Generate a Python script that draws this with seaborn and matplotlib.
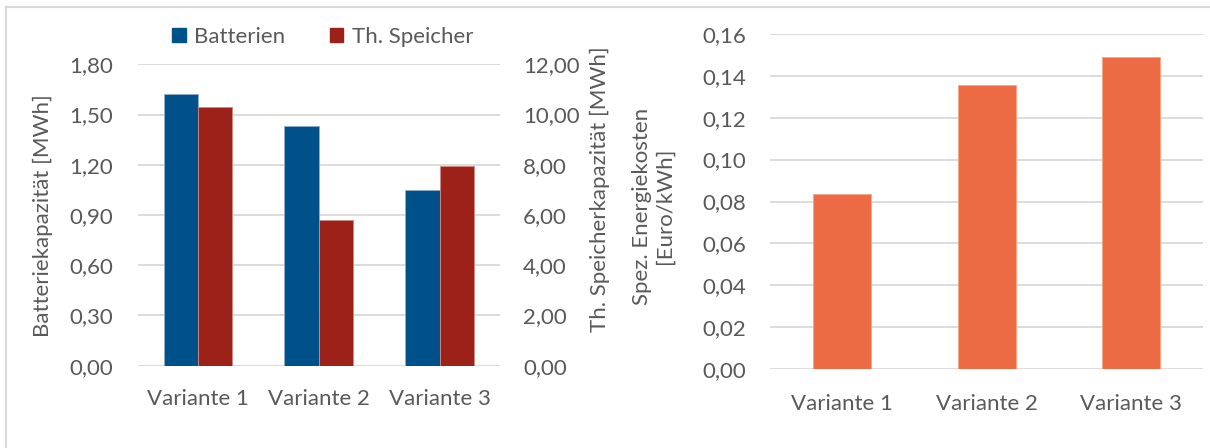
import matplotlib
matplotlib.use("Agg")
import matplotlib.pyplot as plt
import matplotlib.patches as mpatches
from matplotlib.ticker import FuncFormatter, MultipleLocator
import pandas as pd
import seaborn as sns

# Data
varianten = ["Variante 1", "Variante 2", "Variante 3"]
batterien = [1.62, 1.43, 1.05]          # MWh
th_speicher = [10.30, 5.80, 7.97]        # MWh
energiekosten = [0.0834, 0.1354, 0.1489]  # Euro/kWh

serien = ["Batterien", "Th. Speicher"]
farben = {"Batterien": "#00508a", "Th. Speicher": "#9c2118"}
kanten = {"Batterien": "#8fb0d0", "Th. Speicher": "#d08a84"}
orange = "#ec6b45"
text_col = "#595959"
grid_col = "#d9d9d9"

sns.set_theme(style="white")
plt.rcParams["font.family"] = ["Lato", "DejaVu Sans"]
plt.rcParams["text.color"] = text_col
plt.rcParams["axes.labelcolor"] = text_col
plt.rcParams["xtick.color"] = text_col
plt.rcParams["ytick.color"] = text_col

df_kap = pd.DataFrame({
    "Variante": varianten * 2,
    "Wert": batterien + th_speicher,
    "Serie": [serien[0]] * 3 + [serien[1]] * 3,
})
df_kosten = pd.DataFrame({"Variante": varianten, "Wert": energiekosten})

W, H = 1210, 448
fig = plt.figure(figsize=(W / 100, H / 100), dpi=100)

def comma(dec):
    return FuncFormatter(lambda v, p: f"{v:.{dec}f}".replace(".", ","))

fs = 16

# Left chart: battery capacity (left axis) and thermal storage (right axis)
ax1 = fig.add_axes([137.7 / W, 1 - 365.7 / H, 362.3 / W, 301.4 / H])
ax2 = ax1.twinx()
for ax, keep in ((ax1, serien[0]), (ax2, serien[1])):
    sns.barplot(data=df_kap, x="Variante", y="Wert", hue="Serie", hue_order=serien,
                palette=farben, width=0.569, errorbar=None, ax=ax,
                saturation=1, legend=False)
    # each axis shows only the series that belongs to its scale
    for serie, cont in zip(serien, ax.containers):
        for bar in cont:
            bar.set_visible(serie == keep)
            bar.set_edgecolor(kanten[serie])
            bar.set_linewidth(0.6)

ax1.set_ylim(0, 1.80)
ax1.yaxis.set_major_locator(MultipleLocator(0.30))
ax1.yaxis.set_major_formatter(comma(2))
ax2.set_ylim(0, 12.0)
ax2.yaxis.set_major_locator(MultipleLocator(2.0))
ax2.yaxis.set_major_formatter(comma(2))
ax1.set_xlim(-0.5, 2.5)
ax1.grid(axis="y", color=grid_col, linewidth=1.3)
ax1.set_axisbelow(True)
ax2.grid(False)
for a in (ax1, ax2):
    for s in a.spines.values():
        s.set_visible(False)
    a.tick_params(axis="both", length=0, labelsize=fs)
    a.set_xlabel("")
    a.set_ylabel("")
ax1.tick_params(axis="y", pad=17.5)
ax2.tick_params(axis="y", pad=16.5)
ax1.tick_params(axis="x", pad=16.5)

fig.text(42.5 / W, 1 - 216 / H, "Batteriekapazität [MWh]", rotation=90,
         ha="center", va="center", fontsize=fs, color=text_col)
fig.text(600 / W, 1 - 189 / H, "Th. Speicherkapazität [MWh]", rotation=90,
         ha="center", va="center", fontsize=fs, color=text_col)

handles = [mpatches.Patch(color=farben[s], label=s) for s in serien]
fig.legend(handles=handles, loc="center", bbox_to_anchor=(323 / W, 1 - 37 / H),
           ncol=2, frameon=False, fontsize=fs, handlelength=0.6, handleheight=0.6,
           handletextpad=0.4, columnspacing=2.0)

# Right chart: specific energy costs
ax3 = fig.add_axes([770 / W, 1 - 369.3 / H, 433.3 / W, 335.6 / H])
sns.barplot(data=df_kosten, x="Variante", y="Wert", color=orange, width=0.40,
            errorbar=None, ax=ax3, edgecolor="#f4a58c", linewidth=0.6, saturation=1)
ax3.set_ylim(0, 0.16)
ax3.set_xlim(-0.5, 2.5)
ax3.yaxis.set_major_locator(MultipleLocator(0.02))
ax3.yaxis.set_major_formatter(comma(2))
ax3.grid(axis="y", color=grid_col, linewidth=1.3)
ax3.set_axisbelow(True)
for s in ax3.spines.values():
    s.set_visible(False)
ax3.tick_params(axis="both", length=0, labelsize=fs)
ax3.tick_params(axis="y", pad=17.3)
ax3.tick_params(axis="x", pad=18)
ax3.set_xlabel("")
ax3.set_ylabel("")
fig.text(653 / W, 1 - 206 / H, "Spez. Energiekosten\n[Euro/kWh]", rotation=90,
         ha="center", va="center", multialignment="center", fontsize=fs,
         color=text_col, linespacing=1.15)

# Chart area frame
frame = mpatches.Rectangle((6 / W, -0.2), 1.2, 1.2 - 7 / H, transform=fig.transFigure,
                           fill=False, edgecolor=grid_col, linewidth=1.5)
fig.patches.append(frame)

fig.savefig("out.png", dpi=100, facecolor="white")
